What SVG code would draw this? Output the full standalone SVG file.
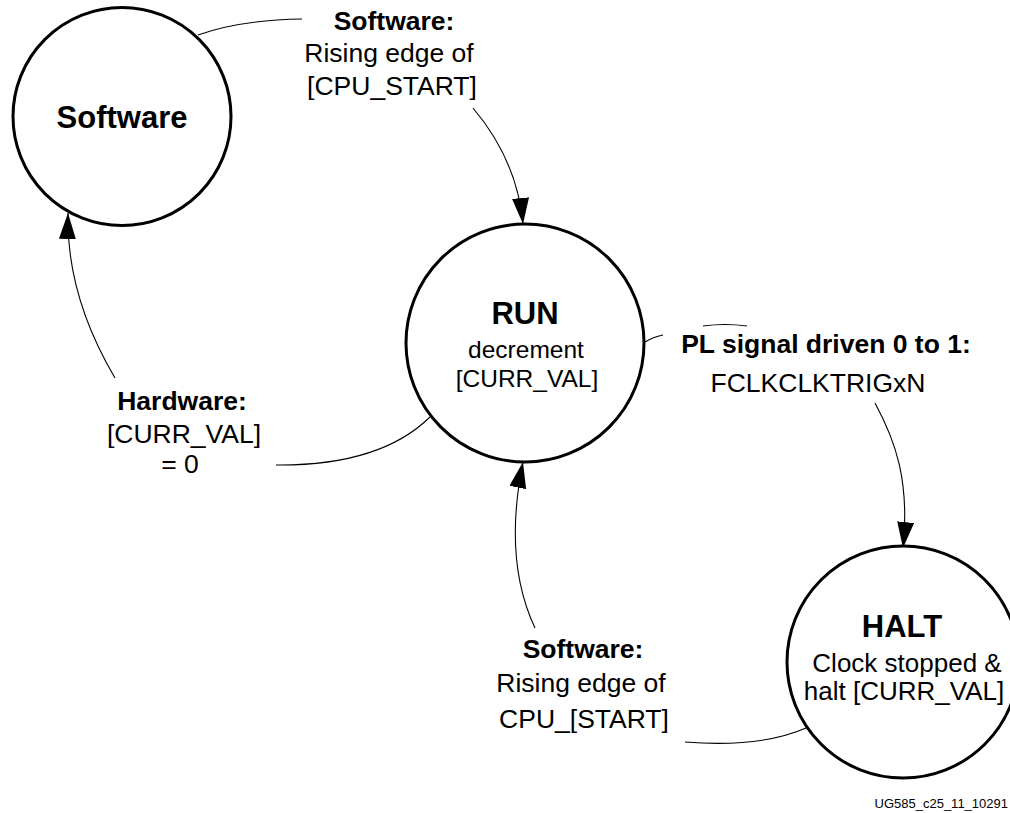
<svg xmlns="http://www.w3.org/2000/svg" width="1010" height="813" viewBox="0 0 1010 813">
<style>
  text { font-family: "Liberation Sans", Arial, Helvetica, sans-serif; fill: #000; text-anchor: middle; }
  .title { font-size: 31px; font-weight: bold; }
  .sub { font-size: 24.5px; }
  .sub26 { font-size: 26px; }
  .lb { font-size: 26.5px; font-weight: bold; }
  .lr { font-size: 26.5px; }
  .node { fill: #fff; stroke: #000; stroke-width: 3; }
  .edge { fill: none; stroke: #000; stroke-width: 1.1; }
  .foot { font-size: 13px; text-anchor: end; }
</style>
<defs>
  <marker id="arr" markerUnits="userSpaceOnUse" markerWidth="26" markerHeight="17" viewBox="0 0 26 17" refX="26" refY="8.5" orient="auto">
    <path d="M0,0 L26,8.5 L0,17 Z" fill="#000"/>
  </marker>
</defs>
<rect width="1010" height="813" fill="#fff"/>

<g id="connectors">
  <!-- Software -> RUN -->
  <path class="edge" d="M198,35 Q240,20 302,19"/>
  <path class="edge" d="M473,108 Q517,160 523,224" marker-end="url(#arr)"/>
  <!-- RUN -> Software (Hardware) -->
  <path class="edge" d="M430,417 Q380,466 276,465"/>
  <path class="edge" d="M115,378 Q66,295 68,213" marker-end="url(#arr)"/>
  <!-- RUN -> HALT (PL signal) -->
  <path class="edge" d="M645,342 Q653,337 663,335"/>
  <path class="edge" d="M703,326 Q725,323 747,326"/>
  <path class="edge" d="M875,403 C895,440 910,480 903,548" marker-end="url(#arr)"/>
  <!-- HALT -> RUN (Software) -->
  <path class="edge" d="M806,728 Q760,748 685,742"/>
  <path class="edge" d="M535,628 Q503,560 523,462" marker-end="url(#arr)"/>
</g>

<g id="node-software">
  <circle class="node" cx="122" cy="116.5" r="109"/>
  <text class="title" x="122" y="128">Software</text>
</g>

<g id="node-run">
  <circle class="node" cx="525" cy="343" r="119"/>
  <text class="title" x="525" y="324">RUN</text>
  <text class="sub" x="526" y="358">decrement</text>
  <text class="sub" x="527" y="387">[CURR_VAL]</text>
</g>

<g id="node-halt">
  <circle class="node" cx="903" cy="662" r="116"/>
  <text class="title" x="902" y="637">HALT</text>
  <text class="sub26" x="907" y="672">Clock stopped &amp;</text>
  <text class="sub26" x="904" y="700">halt [CURR_VAL]</text>
</g>

<g id="label-sw-top">
  <text class="lb" x="394" y="30">Software:</text>
  <text class="lr" x="389" y="62">Rising edge of</text>
  <text class="lr" x="392" y="95">[CPU_START]</text>
</g>

<g id="label-hw">
  <text class="lb" x="182" y="410">Hardware:</text>
  <text class="lr" x="184" y="443">[CURR_VAL]</text>
  <text class="lr" x="180" y="473">= 0</text>
</g>

<g id="label-pl">
  <text class="lb" x="826" y="353">PL signal driven 0 to 1:</text>
  <text class="lr" x="818" y="392">FCLKCLKTRIGxN</text>
</g>

<g id="label-sw-bottom">
  <text class="lb" x="583" y="658">Software:</text>
  <text class="lr" x="581" y="692">Rising edge of</text>
  <text class="lr" x="584" y="728">CPU_[START]</text>
</g>

<text class="foot" x="1008" y="808">UG585_c25_11_10291</text>
</svg>
